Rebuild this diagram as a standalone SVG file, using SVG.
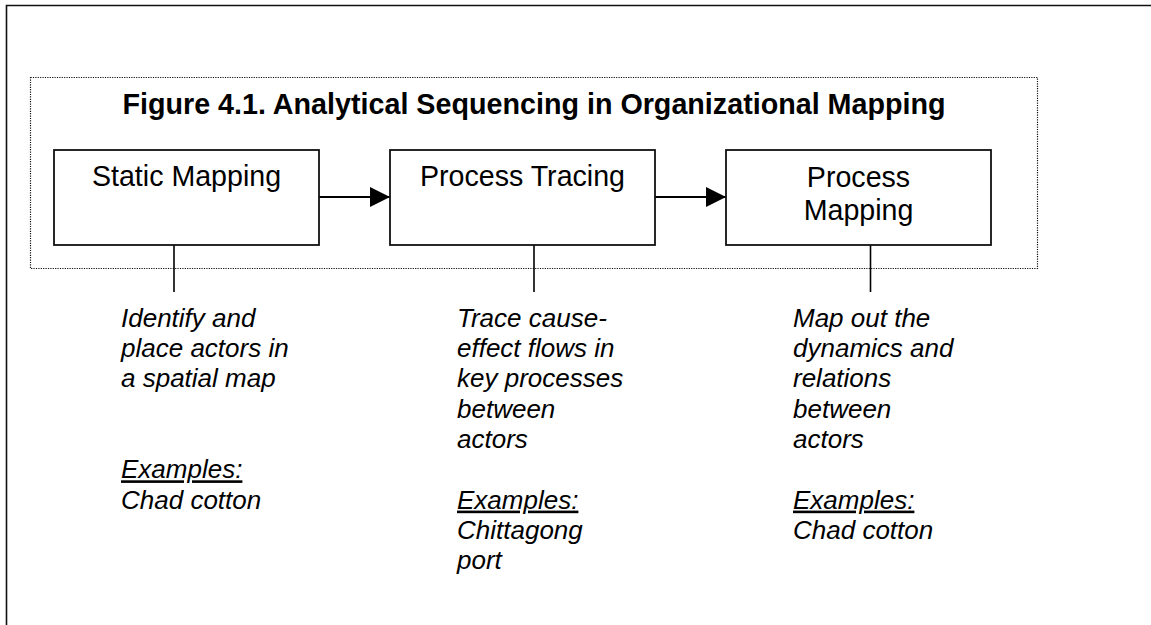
<svg xmlns="http://www.w3.org/2000/svg" width="1151" height="625" viewBox="0 0 1151 625">
  <defs>
    <style>
      .frame { fill: none; stroke: #111; stroke-width: 1.6; }
      .group-box { fill: none; stroke: #111; stroke-width: 1.2; stroke-dasharray: 1.2 1.2; }
      .box { fill: #fff; stroke: #111; stroke-width: 1.8; }
      .label { font-family: "Liberation Sans", Arial, sans-serif; font-size: 28.6px; fill: #000; text-anchor: middle; }
      .title { font-family: "Liberation Sans", Arial, sans-serif; font-size: 28.7px; font-weight: bold; fill: #000; text-anchor: middle; }
      .note { font-family: "Liberation Sans", Arial, sans-serif; font-size: 26px; font-style: italic; fill: #000; }
      .edge { fill: none; stroke: #000; stroke-width: 1.8; }
      .stem { fill: none; stroke: #000; stroke-width: 1.6; }
      .ul { text-decoration: underline; }
    </style>
    <marker id="arrowhead" markerUnits="userSpaceOnUse" markerWidth="20" markerHeight="20" refX="20" refY="10" orient="auto">
      <path d="M0,0 L20,10 L0,20 Z" fill="#000"/>
    </marker>
  </defs>

  <rect width="1151" height="625" fill="#fff"/>

  <!-- page frame (open to the right and bottom) -->
  <path class="frame" d="M6.5,625 V5.5 H1151"/>

  <!-- dotted figure boundary -->
  <rect class="group-box" x="30.5" y="77.5" width="1007" height="191"/>

  <text class="title" x="534" y="114">Figure 4.1. Analytical Sequencing in Organizational Mapping</text>

  <!-- connectors -->
  <g id="connectors">
    <path class="edge" d="M319,197 H390" marker-end="url(#arrowhead)"/>
    <path class="edge" d="M655,197 H726" marker-end="url(#arrowhead)"/>
    <path class="stem" d="M174,245 V292"/>
    <path class="stem" d="M534,245 V292"/>
    <path class="stem" d="M870.5,245 V292"/>
  </g>

  <g id="static-mapping">
    <rect class="box" x="54" y="150" width="265" height="95"/>
    <text class="label" x="186.5" y="186">Static Mapping</text>
  </g>

  <g id="process-tracing">
    <rect class="box" x="390" y="150" width="265" height="95"/>
    <text class="label" x="522.5" y="186">Process Tracing</text>
  </g>

  <g id="process-mapping">
    <rect class="box" x="726" y="150" width="265" height="95"/>
    <text class="label" x="858.5" y="186.5">Process</text>
    <text class="label" x="858.5" y="220">Mapping</text>
  </g>

  <g id="static-mapping-note">
    <text class="note" x="121" y="326.7">Identify and</text>
    <text class="note" x="121" y="357">place actors in</text>
    <text class="note" x="121" y="387.3">a spatial map</text>
    <text class="note ul" x="121" y="478.3">Examples:</text>
    <text class="note" x="121" y="508.6">Chad cotton</text>
  </g>

  <g id="process-tracing-note">
    <text class="note" x="457" y="326.7">Trace cause-</text>
    <text class="note" x="457" y="357">effect flows in</text>
    <text class="note" x="457" y="387.3">key processes</text>
    <text class="note" x="457" y="417.6">between</text>
    <text class="note" x="457" y="448">actors</text>
    <text class="note ul" x="457" y="508.6">Examples:</text>
    <text class="note" x="457" y="539">Chittagong</text>
    <text class="note" x="457" y="569.3">port</text>
  </g>

  <g id="process-mapping-note">
    <text class="note" x="793" y="326.7">Map out the</text>
    <text class="note" x="793" y="357">dynamics and</text>
    <text class="note" x="793" y="387.3">relations</text>
    <text class="note" x="793" y="417.6">between</text>
    <text class="note" x="793" y="448">actors</text>
    <text class="note ul" x="793" y="508.6">Examples:</text>
    <text class="note" x="793" y="539">Chad cotton</text>
  </g>
</svg>
